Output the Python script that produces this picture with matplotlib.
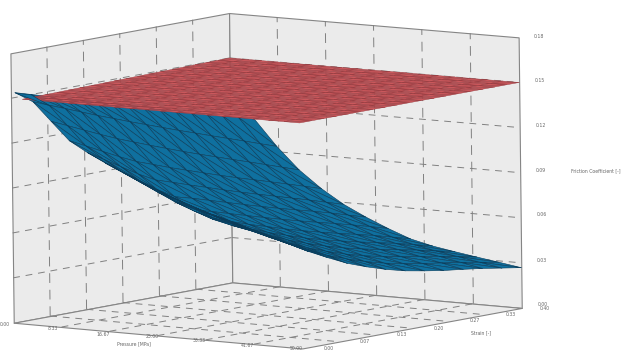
import numpy as np
import matplotlib
matplotlib.use("Agg")
import matplotlib.pyplot as plt
from matplotlib.collections import PolyCollection

pressure_ticks = [0, 8.33, 16.67, 25, 33.33, 41.67, 50]
strain_ticks = [0, .07, .13, .20, .27, .33, .40]
friction_ticks = [0, .03, .06, .09, .12, .15, .18]

# friction coefficient x 1e-4 on the blue mesh: one row per strain step, one column per pressure step
friction_rows = [
 [1540,1537,1534,1532,1529,1526,1524,1521,1519,1516,1513,1511,1508,1505,1503,1500],
 [1456,1442,1429,1415,1401,1390,1378,1368,1358,1348,1340,1331,1323,1315,1306,1298],
 [1303,1283,1263,1243,1225,1212,1199,1188,1177,1168,1160,1152,1145,1137,1129,1121],
 [1151,1125,1098,1072,1050,1040,1029,1021,1013,1006,1000,996,992,987,982,976],
 [1049,1011,972,934,905,899,891,885,878,873,869,866,863,860,855,851],
 [956,906,857,808,771,771,767,763,759,756,754,754,754,753,749,746],
 [869,813,756,700,659,661,657,654,651,649,649,650,652,653,652,650],
 [784,728,673,618,576,572,563,559,554,552,553,555,559,562,562,561],
 [699,650,602,553,513,501,487,479,472,470,473,477,483,489,491,493],
 [619,576,534,492,455,434,415,404,397,395,399,406,415,424,429,435],
 [540,501,463,425,388,363,341,329,322,321,328,337,350,362,371,379],
 [474,435,397,359,322,294,269,257,250,251,259,271,286,301,313,324],
 [408,368,329,289,251,221,195,183,177,179,190,204,223,240,254,268],
]
blue_pressure_span_low_strain = [0.7, 42.2]
blue_pressure_span_high_strain = [0.0, 50.0]
red_pressure_span_low_strain = [2.0, 50.0]
red_pressure_span_high_strain = [0.0, 50.0]
red_friction = 0.15

# view: where box corners (fractions of the axis ranges) land in the picture
VIEW = [((0,0,0),(14,322.5)),((1,0,0),(302,349)),((1,1,0),(522,307)),((0,1,0),(232,283)),
        ((0,0,1),(10.5,53)),((0,1,1),(229,13)),((1,1,1),(518.7,37.7)),((1,0,.8333),(299.5,123))]
A = []; b = []
for (X,Y,Z),(x,y) in VIEW:
    A.append([X,Y,Z,1,0,0,0,0,-x*X,-x*Y,-x*Z]); b.append(x)
    A.append([0,0,0,0,X,Y,Z,1,-y*X,-y*Y,-y*Z]); b.append(y)
m = np.linalg.lstsq(np.array(A,float),np.array(b,float),rcond=None)[0]
CAM = np.append(m,1).reshape(3,4)

def proj(p,s,f):
    p,s,f = np.broadcast_arrays(np.asarray(p,float),np.asarray(s,float),np.asarray(f,float))
    h = np.stack([p/50,s/.4,f/.18,np.ones_like(p)],-1)@CAM.T
    return h[...,:2]/h[...,2:]

def mesh(span0, span1, rows, cols):
    t = np.linspace(0,1,rows); u = np.linspace(0,1,cols)
    lo = span0[0]+(span1[0]-span0[0])*t; hi = span0[1]+(span1[1]-span0[1])*t
    return lo[:,None]+(hi-lo)[:,None]*u[None,:], np.outer(t*.4,np.ones(cols))

F = np.array(friction_rows)*1e-4
PP, SS = mesh(blue_pressure_span_low_strain, blue_pressure_span_high_strain, *F.shape)
rp, rs = mesh(red_pressure_span_low_strain, red_pressure_span_high_strain, 19, 19)

fig = plt.figure(figsize=(6.24,3.55),dpi=100)
ax = fig.add_axes([0,0,1,1]); ax.set_xlim(0,624); ax.set_ylim(355,0); ax.axis('off')
W='#ebebeb'; E='#858585'; GC='#808080'
def quad(c):
    ax.add_collection(PolyCollection([proj(*np.array(c).T)],facecolor=W,edgecolor=E,linewidth=.8,zorder=1))
quad([(0,0,0),(0,.4,0),(0,.4,.18),(0,0,.18)])
quad([(0,.4,0),(50,.4,0),(50,.4,.18),(0,.4,.18)])
quad([(0,0,0),(50,0,0),(50,.4,0),(0,.4,0)])
def line(a,b,ls=(0,(7,6))):
    q = proj(*np.array([a,b]).T); ax.plot(q[:,0],q[:,1],color=GC,lw=.7,ls=ls,zorder=2)
pg = pressure_ticks[1:-1]; sg = [.0667,.1333,.2,.2667,.3333]
VL = (0,(10,7))
for f in friction_ticks[1:-1]:
    line((0,0,f),(0,.4,f)); line((0,.4,f),(50,.4,f))
for s in sg:
    line((0,s,0),(0,s,.18),VL); line((0,s,0),(50,s,0))
for p in pg:
    line((p,.4,0),(p,.4,.18),VL); line((p,0,0),(p,.4,0))

def tris(X,Y,Z):
    Q = proj(X,Y,Z); out=[]; zz=[]
    for j in range(X.shape[0]-1):
        for i in range(X.shape[1]-1):
            a,b,c,d = Q[j,i],Q[j,i+1],Q[j+1,i+1],Q[j+1,i]
            out += [[a,b,c],[a,c,d]]
            zz += [(Z[j,i]+Z[j,i+1]+Z[j+1,i+1])/3,(Z[j,i]+Z[j+1,i+1]+Z[j+1,i])/3]
    return np.array(out),np.array(zz)
bt,bz = tris(PP,SS,F)
B='#0f709f'; BE='#0a3c5a'; R='#c9585c'; RE='#94393e'
ax.add_collection(PolyCollection(bt,facecolor=B,edgecolor=BE,linewidth=.4,zorder=3))
rt,_ = tris(rp,rs,np.full_like(rp,red_friction))
ax.add_collection(PolyCollection(rt,facecolor=R,edgecolor=RE,linewidth=.3,zorder=4))
ax.add_collection(PolyCollection(bt[bz>.1505],facecolor=B,edgecolor=BE,linewidth=.4,zorder=5))

T = dict(color='#666666',fontsize=3.3,ha='center',va='center')
for p,x,y in zip(pressure_ticks,[5,53,103,152,199,247,296],[325,329,334,337,341,345.5,349]):
    ax.text(x,y,f"{p:.2f}",**T)
for s,x,y in zip(strain_ticks,[329,365,402,439,475,511,545],[348,341.5,335,328,321,315,308]):
    ax.text(x,y,f"{s:.2f}",**T)
for f,x,y in zip(friction_ticks,[543,542,541.5,541,541,540,539],[305,260,215,171,125.5,81,36]):
    ax.text(x,y,f"{f:.2f}",**T)
ax.text(134,344,"Pressure [MPa]",**T)
ax.text(481,333,"Strain [-]",**T)
ax.text(596,171,"Friction Coefficient [-]",**T)
fig.savefig('out.png',dpi=100)
